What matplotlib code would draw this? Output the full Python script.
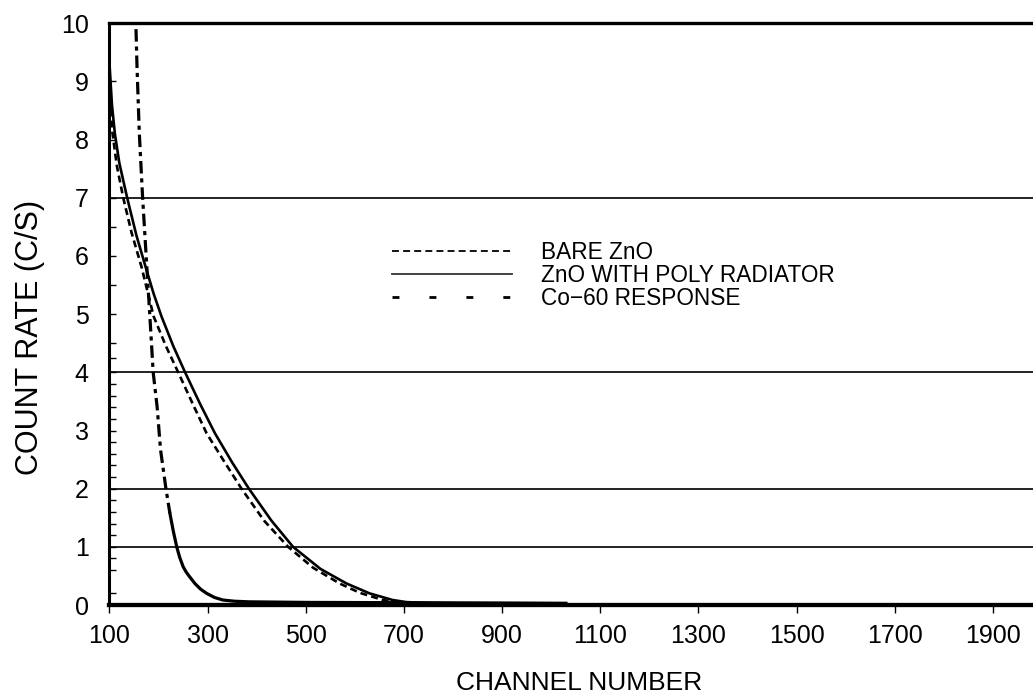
import matplotlib
matplotlib.use("Agg")
import matplotlib.pyplot as plt
from matplotlib.lines import Line2D
import numpy as np

plt.rcParams['font.family'] = ['Liberation Sans', 'DejaVu Sans']
plt.rcParams['lines.scale_dashes'] = False

# ZnO with polyethylene radiator
poly_ch = [100, 105, 111, 120, 136, 155, 174, 190, 206, 230, 254, 285, 315, 350,
           384, 430, 474, 530, 583, 630, 677, 705, 750, 850, 950, 1030]
poly_rate = [9.3, 8.6, 8.1, 7.6, 7.0, 6.35, 5.8, 5.35, 4.96, 4.45, 4.0, 3.45, 2.95, 2.45,
             2.0, 1.45, 1.0, 0.62, 0.37, 0.2, 0.086, 0.05, 0.035, 0.025, 0.02, 0.015]

# bare ZnO
bare_ch = [100, 106, 115, 128, 145, 165, 190, 215, 240, 270, 298, 335, 369, 415,
           464, 515, 569, 610, 657, 690]
bare_rate = [8.9, 8.12, 7.55, 7.0, 6.4, 5.82, 4.96, 4.45, 4.0, 3.45, 2.95, 2.45, 2.0, 1.45,
             1.0, 0.64, 0.37, 0.21, 0.086, 0.04]

# Co-60 gamma response
co_ch = [154, 156, 160.7, 167.5, 176, 182, 189, 197, 204, 215, 223, 230, 237, 243, 250,
         256, 262, 274, 286, 298, 314, 331, 355, 385, 500, 700, 900, 1030]
co_rate = [9.9, 9.27, 8.12, 7.0, 5.82, 5.0, 4.0, 3.41, 2.67, 2.0, 1.58, 1.27, 1.0, 0.82, 0.66,
           0.57, 0.5, 0.37, 0.27, 0.2, 0.13, 0.086, 0.065, 0.055, 0.045, 0.04, 0.035, 0.03]

x_ticks = [100, 300, 500, 700, 900, 1100, 1300, 1500, 1700, 1900]
y_ticks = list(range(0, 11))
y_minor = [0.2, 0.6, 0.8, 1.2, 1.4, 1.6, 1.8, 2.2, 2.4, 2.6, 2.8, 3.2, 3.4, 3.6, 3.8,
           4.25, 4.5, 5.5, 6.5]
grid_levels = [1, 2, 4, 7]

fig = plt.figure(figsize=(10.33, 6.98), dpi=100)
ax = fig.add_axes([0.106, 0.1332, 0.9027, 0.8334])

for g in grid_levels:
    ax.axhline(g, color='#222222', lw=1.4, zorder=1)

ax.plot(bare_ch, bare_rate, color='black', lw=1.9, ls=(0, (5, 3)), zorder=3)
ax.plot(poly_ch, poly_rate, color='black', lw=1.9, zorder=3)

# dash-dot on the steep part, solid once the curve flattens out
co_ch = np.array(co_ch)
co_rate = np.array(co_rate)
upper = co_ch <= 223
lower = co_ch >= 223
ax.plot(co_ch[upper], co_rate[upper], color='black', lw=2.3, ls=(0, (9, 3.5, 3, 3.5)), zorder=3)
ax.plot(co_ch[lower], co_rate[lower], color='black', lw=2.3, zorder=3)

ax.set_xlim(100, 2000)
ax.set_ylim(0, 10)
ax.set_xticks(x_ticks)
ax.set_yticks(y_ticks)
ax.set_yticks(y_minor, minor=True)

ax.tick_params(axis='x', direction='out', length=6, width=1.0, pad=8, labelsize=18)
ax.tick_params(axis='y', which='major', direction='in', length=5, width=1.0, pad=15, labelsize=18)
ax.tick_params(axis='y', which='minor', direction='in', length=5, width=1.0)

ax.spines['right'].set_visible(False)
ax.spines['left'].set_linewidth(2.2)
ax.spines['top'].set_linewidth(2.4)
ax.spines['bottom'].set_linewidth(3.1)

ax.set_xlabel('CHANNEL NUMBER', fontsize=19, va='center')
ax.xaxis.set_label_coords(0.5035, -0.134)
ax.set_ylabel('COUNT RATE (C/S)', fontsize=22, va='center', rotation_mode='anchor')
ax.yaxis.set_label_coords(-0.0853, 0.4607)

handles = [
    Line2D([], [], color='black', lw=1.3, ls=(0, (5, 3))),
    Line2D([], [], color='#333333', lw=1.3),
    Line2D([], [], color='black', lw=2.0, ls=(0, (5, 21.6))),
]
labels = ['BARE ZnO', 'ZnO WITH POLY RADIATOR', 'Co\u221260 RESPONSE']
ax.legend(handles, labels, loc='center left', bbox_to_anchor=(0.303, 0.567),
          frameon=False, fontsize=16.3, handlelength=5.3, handletextpad=1.3,
          labelspacing=0.0, borderpad=0, borderaxespad=0)

fig.savefig('out.png', dpi=100)
